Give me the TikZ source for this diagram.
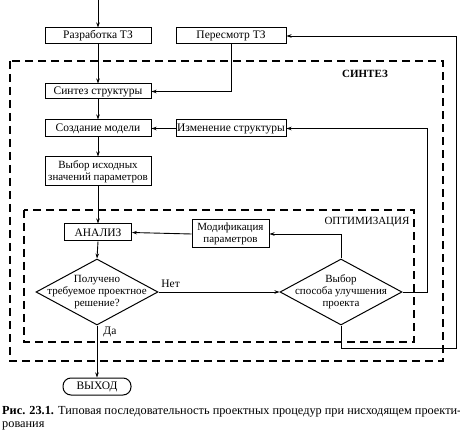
\documentclass[tikz,border=0pt]{standalone}
\usepackage{fontspec}
\setmainfont{Liberation Serif}
\usetikzlibrary{shapes.geometric,arrows.meta}
\begin{document}
\begin{tikzpicture}[x=1pt,y=-1pt,
  font=\fontsize{11.5}{13}\selectfont,
  box/.style={draw,line width=1pt,inner sep=1pt,align=center},
  dia/.style={draw,line width=1pt,diamond,inner sep=0pt},
  conn/.style={line width=0.9pt},
  arr/.style={conn,-{Stealth[length=5pt,width=3.5pt]}},
  region/.style={line width=1.2pt,dash pattern=on 8pt off 5pt},
  lbl/.style={inner sep=0pt}]
\useasboundingbox (0,0) rectangle (460,443);
% regions
\draw[region] (10,61) rectangle (443,361);
\draw[region] (24,210) rectangle (414,342);
\node[lbl,font=\fontsize{11}{12}\selectfont\bfseries] (lsin) at (365,74) {СИНТЕЗ};
\node[lbl,font=\fontsize{11}{12}\selectfont] (lopt) at (367,222) {ОПТИМИЗАЦИЯ};
% boxes
\coordinate (start) at (98,0);
\node[box,minimum width=106,minimum height=16] (raz) at (98,36) {Разработка ТЗ};
\node[box,minimum width=110,minimum height=16] (per) at (231,36) {Пересмотр ТЗ};
\node[box,minimum width=106,minimum height=15] (sin) at (98,91.5) {Синтез структуры};
\node[box,minimum width=106,minimum height=17] (soz) at (98,128.5) {Создание модели};
\node[box,minimum width=110,minimum height=17] (izm) at (231,128.5) {Изменение структуры};
\node[box,minimum width=106,minimum height=29,font=\fontsize{11}{12}\selectfont] (vyb) at (98,171.5) {Выбор исходных\\значений параметров};
\node[box,minimum width=67,minimum height=17] (an) at (98,232.5) {АНАЛИЗ};
\node[box,minimum width=77,minimum height=28,font=\fontsize{11}{12}\selectfont] (mod) at (230.5,234) {Модификация\\параметров};
\node[dia,minimum width=122,minimum height=66] (d1) at (97,292) {};
\node[lbl,align=center,font=\fontsize{11}{12}\selectfont] (t1) at (d1) {Получено\\требуемое проектное\\решение?};
\node[dia,minimum width=122,minimum height=66] (d2) at (341,292) {};
\node[lbl,align=center,font=\fontsize{11}{12}\selectfont] (t2) at (d2) {Выбор\\способа улучшения\\проекта};
\node[box,rounded corners=8pt,minimum width=68,minimum height=17] (out) at (97,386.5) {ВЫХОД};
% helper coordinates
\coordinate (c1) at (427,292);
\coordinate (c2) at (341,348);
\coordinate (c3) at (456,348);
% connectors
\draw[arr] (start) -- (raz.north);
\draw[arr] (raz.south) -- (sin.north);
\draw[arr] (per.south) |- (sin.east);
\draw[arr] (sin.south) -- (soz.north);
\draw[arr] (izm.west) -- (soz.east);
\draw[arr] (soz.south) -- (vyb.north);
\draw[arr] (vyb.south) -- (an.north);
\draw[arr] (mod.west) -- (an.east);
\draw[arr] (an.south) -- (d1.north);
\draw[arr] (d1.east) -- node[pos=0.1,above=4pt,lbl] (no) {Нет} (d2.west);
\draw[arr] (d2.north) |- (mod.east);
\draw[arr] (d2.east) -- (c1) |- (izm.east);
\draw[arr] (d2.south) -- (c2) -- (c3) |- (per.east);
\draw[arr] (d1.south) -- node[pos=0.13,right,lbl,xshift=6pt] (yes) {Да} (out.north);
% caption
\node[lbl,anchor=west,font=\fontsize{12.3}{14}\selectfont] (cap1) at (2,412) {\textbf{Рис. 23.1.} Типовая последовательность проектных процедур при нисходящем проекти-};
\node[lbl,anchor=west,font=\fontsize{12.3}{14}\selectfont] (cap2) at (2,426) {рования};
\end{tikzpicture}
\end{document}
